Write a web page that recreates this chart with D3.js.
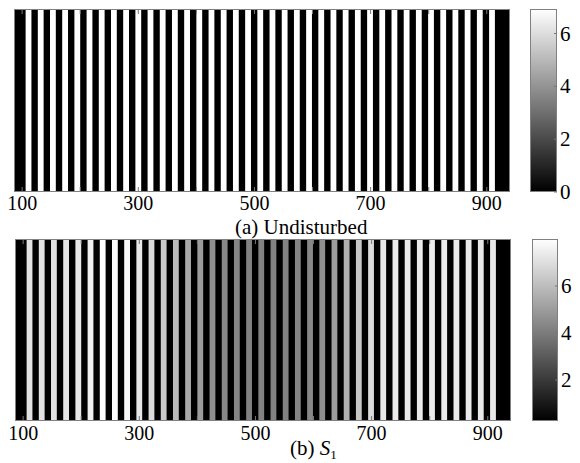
<!DOCTYPE html>
<html><head><meta charset="utf-8">
<script src="https://cdn.jsdelivr.net/npm/d3@7"></script>
<style>body{margin:0;background:#fff}svg{display:block}text{font-family:"Liberation Serif","Times New Roman",serif;fill:#000}</style>
</head><body><svg id="c" width="580" height="463"></svg>
<script>
// ---- data ----
const xDomain = [86, 940];
const xTicks = [100, 200, 300, 400, 500, 600, 700, 800, 900];
const xTickLabels = [100, 300, 500, 700, 900];
// centres of the bright fringes (x units)
const brightCenters = [111,132,153,174,195,216,237,258,279,300,321,342,363,384,405,426,447,468,489,510,
  531,552,573,594,615,636,657,678,699,720,741,762,783,804,825,846,867,888,909];
const brightWidth = 10;
// panel (a) Undisturbed
const topRange = [0, 6.93];
const topDark = 0;
const topBright = [6.93,6.93,6.93,6.93,6.93,6.93,6.93,6.93,6.93,6.93,6.93,6.93,6.93,6.93,6.93,6.93,6.93,6.93,6.93,6.93,
  6.93,6.93,6.93,6.93,6.93,6.93,6.93,6.93,6.93,6.93,6.93,6.93,6.93,6.93,6.93,6.93,6.93,6.93,6.93];
const topCbTicks = [0, 2, 4, 6];
// panel (b) S1
const botRange = [0.26, 8.0];
const botDark = 0.26;
const botBright = [7.1,7.1,7.1,7.2,7.3,7.5,7.9,7.9,7.8,7.3,6.9,6.4,5.9,5.4,5.0,4.6,4.4,4.3,4.2,4.2,
  4.2,4.2,4.3,4.4,4.6,5.0,5.6,6.3,6.9,7.3,7.4,7.4,7.4,7.4,7.4,7.4,7.4,7.3,7.3];
const botCbTicks = [2, 4, 6];

// ---- drawing ----
const svg = d3.select("#c");
const FS = 21;

function panel(cfg) {
  const g = svg.append("g");
  const x = d3.scaleLinear().domain(xDomain).range([cfg.left, cfg.right]);
  const y0 = cfg.top, y1 = cfg.bottom;
  const col = d3.scaleLinear().domain(cfg.range).range(["#000", "#fff"]).clamp(true);
  g.append("rect").attr("x", x(xDomain[0])).attr("y", y0)
    .attr("width", x(xDomain[1]) - x(xDomain[0])).attr("height", y1 - y0)
    .attr("fill", col(cfg.dark));
  g.selectAll("rect.s").data(brightCenters).join("rect").attr("class", "s")
    .attr("x", d => x(d - brightWidth / 2)).attr("y", y0)
    .attr("width", d => x(d + brightWidth / 2) - x(d - brightWidth / 2))
    .attr("height", y1 - y0)
    .attr("fill", (d, i) => col(cfg.bright[i]));
  g.selectAll("line.t").data(xTicks).join("line").attr("class", "t")
    .attr("x1", d => x(d)).attr("x2", d => x(d)).attr("y1", y1).attr("y2", y1 - 5)
    .attr("stroke", "#777").attr("stroke-width", 1);
  g.selectAll("line.tt").data(xTicks).join("line").attr("class", "tt")
    .attr("x1", d => x(d)).attr("x2", d => x(d)).attr("y1", y0).attr("y2", y0 + 5)
    .attr("stroke", "#777").attr("stroke-width", 1);
  g.append("rect").attr("x", cfg.left + 0.5).attr("y", y0 + 0.5)
    .attr("width", cfg.right - cfg.left - 1).attr("height", y1 - y0 - 1)
    .attr("fill", "none").attr("stroke", "#808080").attr("stroke-width", 1);
  g.selectAll("text.xl").data(xTickLabels).join("text").attr("class", "xl")
    .attr("x", d => x(d)).attr("y", y1 + cfg.labelDy).attr("text-anchor", "middle")
    .attr("font-size", 20).text(d => d);

  const cy = d3.scaleLinear().domain(cfg.range).range([y1, y0]);
  const gid = "grad" + cfg.id;
  const grad = svg.append("defs").append("linearGradient").attr("id", gid)
    .attr("x1", 0).attr("y1", 1).attr("x2", 0).attr("y2", 0);
  grad.append("stop").attr("offset", 0).attr("stop-color", col(cfg.range[0]));
  grad.append("stop").attr("offset", 1).attr("stop-color", col(cfg.range[1]));
  g.append("rect").attr("x", cfg.cbLeft).attr("y", cy(cfg.range[1]))
    .attr("width", cfg.cbRight - cfg.cbLeft).attr("height", cy(cfg.range[0]) - cy(cfg.range[1]))
    .attr("fill", `url(#${gid})`);
  g.append("rect").attr("x", cfg.cbLeft + 0.5).attr("y", y0 + 0.5)
    .attr("width", cfg.cbRight - cfg.cbLeft - 1).attr("height", y1 - y0 - 1)
    .attr("fill", "none").attr("stroke", "#808080");
  g.selectAll("line.ct").data(cfg.cbTicks).join("line").attr("class", "ct")
    .attr("x1", cfg.cbRight - 3).attr("x2", cfg.cbRight).attr("y1", d => cy(d)).attr("y2", d => cy(d))
    .attr("stroke", "#777");
  g.selectAll("text.cl").data(cfg.cbTicks).join("text").attr("class", "cl")
    .attr("x", cfg.cbRight + 3).attr("y", d => cy(d) + 7)
    .attr("font-size", FS).text(d => d);
}

panel({id: "a", left: 14, right: 510, top: 9, bottom: 192, range: topRange, dark: topDark,
  bright: topBright, cbLeft: 530, cbRight: 557, cbTicks: topCbTicks, labelDy: 18});
panel({id: "b", left: 15, right: 511, top: 239, bottom: 421, range: botRange, dark: botDark,
  bright: botBright, cbLeft: 532, cbRight: 558, cbTicks: botCbTicks, labelDy: 19});

svg.append("text").attr("x", 235).attr("y", 234).attr("font-size", FS).text("(a) Undisturbed");
const t2 = svg.append("text").attr("x", 290).attr("y", 455).attr("font-size", FS);
t2.append("tspan").text("(b) ");
t2.append("tspan").attr("font-style", "italic").text("S");
t2.append("tspan").attr("font-size", 13).attr("dy", 4).text("1");
</script></body></html>
